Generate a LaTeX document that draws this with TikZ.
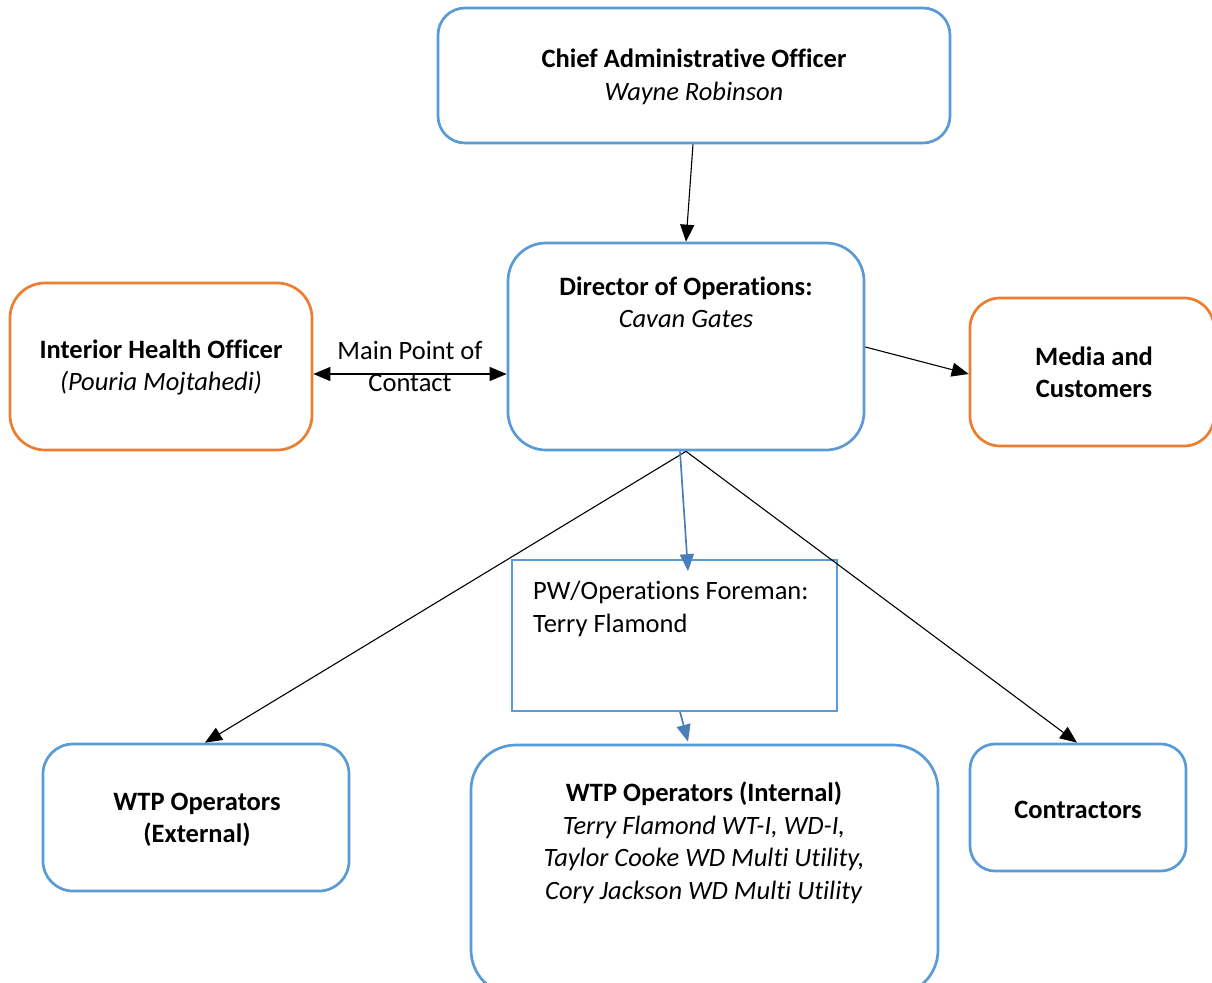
\documentclass[tikz,border=0pt]{standalone}
\usepackage{fontspec}
\setmainfont[Ligatures=NoCommon]{Carlito}
\usetikzlibrary{arrows.meta,calc}
\definecolor{cblue}{HTML}{5B9BD5}
\definecolor{corange}{HTML}{ED7D31}
\definecolor{ablue}{HTML}{4A7EBB}
\begin{document}
\begin{tikzpicture}[x=1pt,y=-1pt,
  box/.style={draw=cblue,line width=2.7pt,inner sep=0pt},
  obox/.style={draw=corange,line width=2.7pt,inner sep=0pt},
  txt/.style={align=center,inner sep=0pt,font=\fontsize{26.5}{32.5}\selectfont},
  arr/.style={draw=black,line width=1.1pt,-{Triangle[length=17pt,width=14pt]}},
  barr/.style={draw=ablue,line width=1.7pt,-{Triangle[length=17pt,width=14pt]}}]
\useasboundingbox (0,0) rectangle (1212,982);
\fill[white] (0,0) rectangle (1212,982);
% boxes
\node[box,rounded corners=27pt,minimum width=512pt,minimum height=135pt] (cao) at (694,75.5) {};
\node[txt] (caot) at (694,77) {\textbf{Chief Administrative Officer}\\\textit{Wayne Robinson}};
\node[box,rounded corners=38pt,minimum width=356pt,minimum height=207pt] (dir) at (686,346.5) {};
\node[txt] (dirt) at (686,302.5) {\textbf{Director of Operations:}\\\textit{Cavan Gates}};
\node[obox,rounded corners=35pt,minimum width=302pt,minimum height=167pt] (ihc) at (161,366.5) {};
\node[txt] (ihct) at (161,367.5) {\textbf{Interior Health Officer}\\\textit{(Pouria Mojtahedi)}};
\node[obox,rounded corners=30pt,minimum width=244pt,minimum height=148pt] (media) at (1092,372) {};
\node[txt] (mediat) at (1094,372.5) {\textbf{Media and}\\\textbf{Customers}};
\node[draw=cblue,line width=1.7pt,inner sep=0pt,minimum width=325pt,minimum height=151pt] (fore) at (674.5,635.5) {};
\node[txt,align=left,anchor=north west] (foret) at (533,581) {PW/Operations Foreman:\\Terry Flamond};
\node[box,rounded corners=45pt,minimum width=467pt,minimum height=250pt] (int) at (704.5,870) {};
\node[txt] (intt) at (704,843) {\textbf{WTP Operators (Internal)}\\\textit{Terry Flamond WT-I, WD-I,}\\\textit{Taylor Cooke WD Multi Utility,}\\\textit{Cory Jackson WD Multi Utility}};
\node[box,rounded corners=30pt,minimum width=306pt,minimum height=147pt] (ext) at (196,817.5) {};
\node[txt] (extt) at (197,820) {\textbf{WTP Operators}\\\textbf{(External)}};
\node[box,rounded corners=25pt,minimum width=216pt,minimum height=127pt] (con) at (1078,807.5) {};
\node[txt] (cont) at (1078,810) {\textbf{Contractors}};
\node[txt] (mpc) at (410,366.5) {Main Point of\\Contact};
% connectors
\draw[arr] ($(cao.south)+(-1,0)$) -- (dir.north);
\draw[draw=black,line width=1.1pt,{Triangle[length=17pt,width=14pt]}-{Triangle[length=17pt,width=14pt]}] ($(ihc.east)+(0,7.5)$) -- ($(dir.west)+(0,27.5)$);
\draw[arr] ($(dir.east)+(0,0.5)$) -- ($(media.west)+(0,2)$);
\draw[arr] (dir.south) -- ($(ext.north)+(9,0)$);
\draw[arr] (dir.south) -- ($(con.north)+(-1,0)$);
\draw[barr] ($(dir.south)+(-6,0)$) -- ($(fore.north)+(13.5,12)$);
\draw[barr] ($(fore.south)+(5.5,0)$) -- ($(int.north)+(-16.5,-2)$);
\end{tikzpicture}
\end{document}
